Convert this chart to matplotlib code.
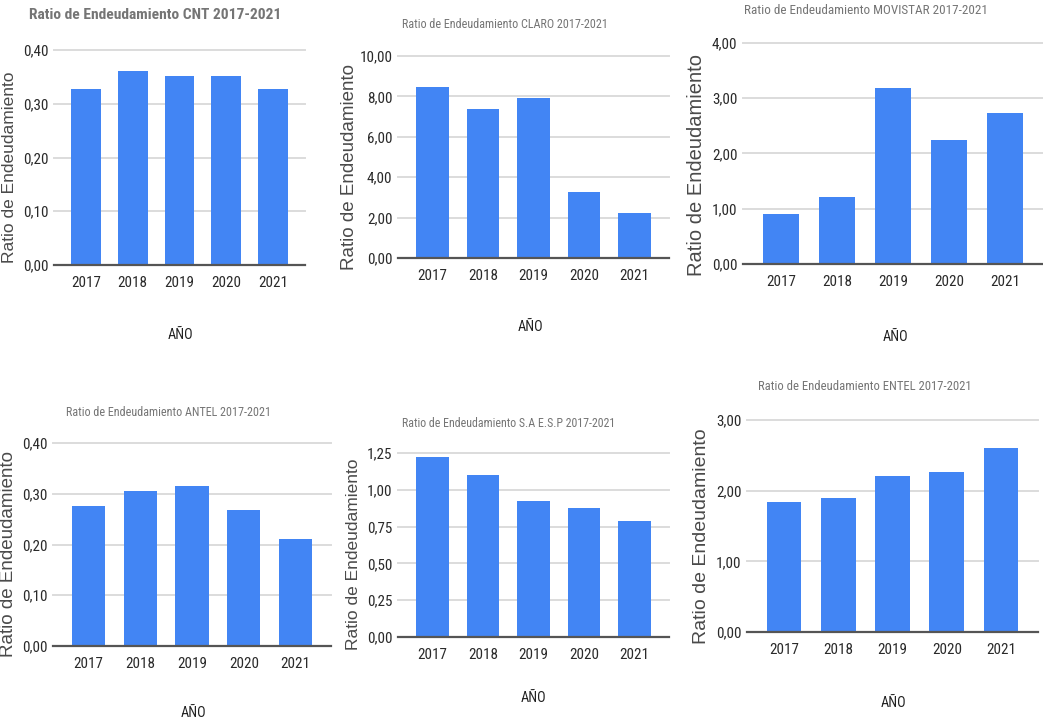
import matplotlib
matplotlib.use("Agg")
import matplotlib.pyplot as plt
from matplotlib import font_manager as fm
from matplotlib.ticker import FuncFormatter

# ── Data ──────────────────────────────────────────────────────────────────────
YEARS = ["2017", "2018", "2019", "2020", "2021"]

cnt      = [0.327, 0.361, 0.352, 0.352, 0.327]
claro    = [8.45, 7.36, 7.90, 3.27, 2.23]
movistar = [0.91, 1.22, 3.19, 2.24, 2.73]
antel    = [0.276, 0.306, 0.315, 0.268, 0.210]
saesp    = [1.22, 1.10, 0.924, 0.876, 0.786]
entel    = [1.845, 1.89, 2.21, 2.26, 2.61]

TITLES = [
    "Ratio de Endeudamiento CNT 2017-2021",
    "Ratio de Endeudamiento CLARO 2017-2021",
    "Ratio de Endeudamiento MOVISTAR 2017-2021",
    "Ratio de Endeudamiento ANTEL 2017-2021",
    "Ratio de Endeudamiento S.A E.S.P 2017-2021",
    "Ratio de Endeudamiento ENTEL 2017-2021",
]
YMAX   = [0.40, 10.0, 4.0, 0.40, 1.25, 3.0]
YSTEP  = [0.10, 2.0, 1.0, 0.10, 0.25, 1.0]
SERIES = [cnt, claro, movistar, antel, saesp, entel]

# ── Layout (pixels in a 1043x724 canvas) ──────────────────────────────────────
W, H = 1043, 724
# axes: left, right, top (ymax line), bottom (zero line)
RECTS = [
    (54, 305, 50, 265),
    (398, 669, 56, 258),
    (743, 1043, 43, 264),
    (53, 331, 443, 646),
    (398, 669, 453, 637),
    (747, 1038, 420, 632),
]
# title: x, y, size, weight
TITLE_POS = [
    (155, 15, 11.5, "bold"),
    (505, 25, 9.0, "normal"),
    (866, 10, 9.7, "normal"),
    (168, 413, 9.0, "normal"),
    (509, 424, 8.8, "normal"),
    (865, 387, 9.4, "normal"),
]
# y-label: x, y, size
YLAB_POS = [
    (10, 167, 12.5),
    (349, 167, 13.5),
    (697, 165, 14.5),
    (9, 554, 13.5),
    (354, 554, 12.5),
    (701, 536, 14.0),
]
XLAB_POS = [(180, 335), (530, 327), (895, 337), (193, 713), (533, 698), (893, 703)]

# ── Pick a narrow font if one is installed ────────────────────────────────────
fonts = fm.fontManager.ttflist
names = {f.name for f in fonts}
stretch = "normal"
if "Liberation Sans Narrow" in names:
    NARROW, K = "Liberation Sans Narrow", 1.0
elif "Roboto Condensed" in names:
    NARROW, K = "Roboto Condensed", 0.97
elif any(f.name == "DejaVu Sans" and f.stretch == "condensed" for f in fonts):
    NARROW, K, stretch = "DejaVu Sans", 0.8, "condensed"
else:
    NARROW, K = "Liberation Sans", 0.82

REG  = ["Liberation Sans", "DejaVu Sans"]
BLUE = "#4285F4"

def nfont(size, weight="normal"):
    return dict(family=[NARROW, "DejaVu Sans"], fontsize=size * K,
                fontweight=weight, fontstretch=stretch)

fig = plt.figure(figsize=(W / 100, H / 100), dpi=100)
fig.patch.set_facecolor("white")

comma = FuncFormatter(lambda v, p: f"{v:.2f}".replace(".", ","))

for i, vals in enumerate(SERIES):
    l, r, t, b = RECTS[i]
    ax = fig.add_axes([l / W, 1 - b / H, (r - l) / W, (b - t) / H])
    x = range(len(YEARS))
    ax.bar(x, vals, width=0.64, color=BLUE, zorder=3)
    ax.set_xlim(-0.68, 4.68)
    ax.set_ylim(0, YMAX[i])
    n = int(round(YMAX[i] / YSTEP[i]))
    ticks = [k * YSTEP[i] for k in range(n + 1)]
    ax.set_yticks(ticks)
    ax.yaxis.set_major_formatter(comma)
    ax.set_xticks(list(x))
    ax.set_xticklabels(YEARS)
    for tv in ticks[1:]:
        ax.axhline(tv, color="#dcdcdc", lw=1.4, zorder=1, clip_on=False)
    ax.axhline(0, color="#555555", lw=1.6, zorder=4, clip_on=False)
    for s in ax.spines.values():
        s.set_visible(False)
    ax.tick_params(length=0, colors="#2a2a2a")
    ax.tick_params(axis="y", pad=4)
    ax.tick_params(axis="x", pad=8)
    for lab in ax.get_yticklabels() + ax.get_xticklabels():
        lab.set_family([NARROW, "DejaVu Sans"])
        lab.set_fontstretch(stretch)
        lab.set_fontsize(11.2 * K)
    ax.set_facecolor("none")

    tx, ty, ts, tw = TITLE_POS[i]
    fig.text(tx / W, 1 - ty / H, TITLES[i], ha="center", va="center",
             color="#757575", **nfont(ts, tw))
    yx, yy, ys = YLAB_POS[i]
    fig.text(yx / W, 1 - yy / H, "Ratio de Endeudamiento", ha="center", va="center",
             rotation=90, fontsize=ys, color="#4a4a4a", family=REG)
    ax_, ay_ = XLAB_POS[i]
    fig.text(ax_ / W, 1 - ay_ / H, "AÑO", ha="center", va="center",
             color="#222222", **nfont(10.5))

fig.savefig("out.png", dpi=100)
